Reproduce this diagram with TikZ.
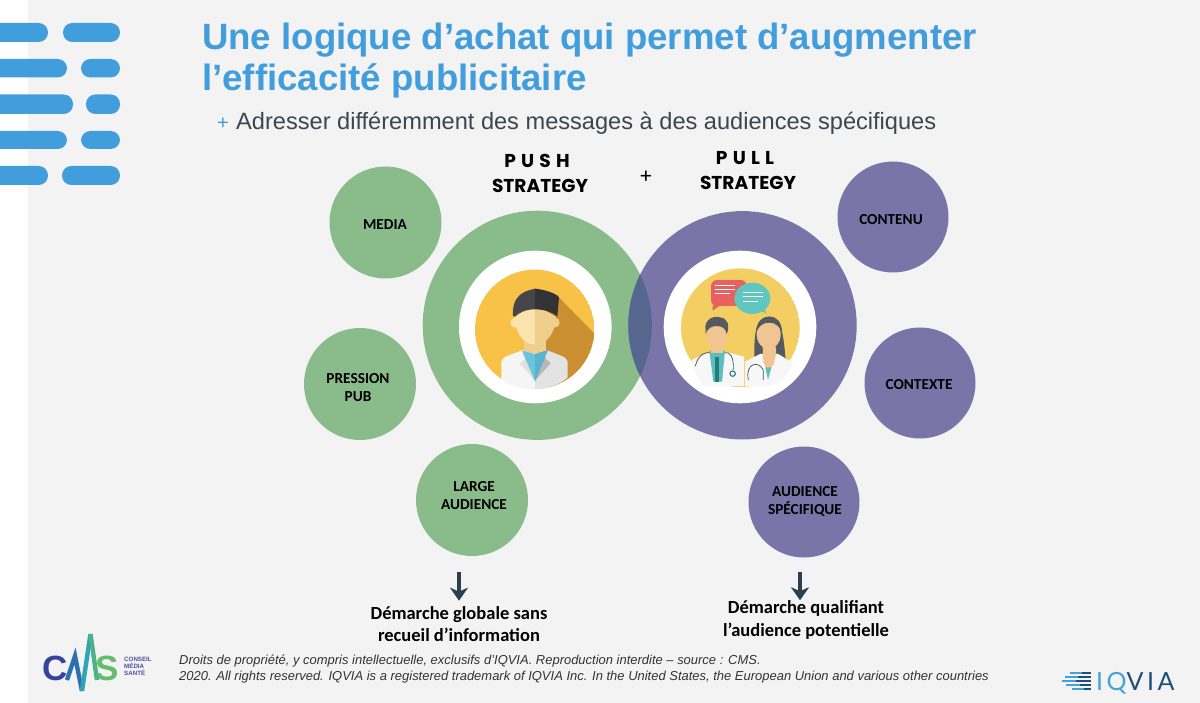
\documentclass[tikz,border=0pt]{standalone}
\usepackage{fontspec}
\usetikzlibrary{arrows.meta}
\setmainfont{Liberation Sans}
\newfontfamily\calib{Carlito}
\newfontfamily\latof[LetterSpace=14]{Lato}
\newfontfamily\popp{Poppins}
\definecolor{bgc}{HTML}{F3F3F3}
\definecolor{titleblue}{HTML}{429DDC}
\definecolor{subgrey}{HTML}{3B4650}
\definecolor{greenc}{HTML}{8ABB8A}
\definecolor{purplec}{HTML}{7A74A9}
\definecolor{overlapc}{HTML}{56668F}
\definecolor{arrowc}{HTML}{2A3F4F}
\definecolor{navyc}{HTML}{1F4E79}
\definecolor{lightb}{HTML}{45A2D4}
\definecolor{yel}{HTML}{F7C247}
\definecolor{yeltwo}{HTML}{F3CF63}
\definecolor{shadowc}{HTML}{C98F30}
\definecolor{skina}{HTML}{FBE3AE}
\definecolor{skinb}{HTML}{F0CF8E}
\definecolor{skinc}{HTML}{F0C592}
\definecolor{collara}{HTML}{6CC4DC}
\definecolor{collarb}{HTML}{5BB2CC}
\definecolor{haira}{HTML}{46464A}
\definecolor{hairb}{HTML}{333336}
\definecolor{hairc}{HTML}{555A60}
\definecolor{redb}{HTML}{E8605F}
\definecolor{tealb}{HTML}{5FC6C0}
\definecolor{tealc}{HTML}{5FBDBB}
\definecolor{teald}{HTML}{1F7F80}
\definecolor{stetho}{HTML}{3A5560}
\definecolor{cmsc}{HTML}{35439A}
\definecolor{cmsg}{HTML}{63BD6A}
\definecolor{cmsa}{HTML}{2E6FB0}
\definecolor{cmsb}{HTML}{2FA5B5}
\definecolor{cmsd}{HTML}{4CB28A}
\definecolor{cmst}{HTML}{5050A0}
\tikzset{
  x=1pt,y=-1pt,
  pill/.style={fill=titleblue,draw=none,rounded corners=9.3pt},
  smallgreen/.style={circle,fill=greenc,draw=none,minimum size=112pt,inner sep=0pt},
  smallpurple/.style={circle,fill=purplec,draw=none,minimum size=111pt,inner sep=0pt},
  lab/.style={font=\calib\bfseries\fontsize{15.3}{18}\selectfont,text=black,align=center},
  strat/.style={font=\popp\bfseries\fontsize{18.6}{24}\selectfont,text=black,align=center},
  concl/.style={font=\calib\bfseries\fontsize{18.5}{22.5}\selectfont,text=black,align=center},
  foot/.style={font=\itshape\fontsize{12.97}{16}\selectfont,text=black!80,anchor=base west,inner sep=0pt},
  titlet/.style={anchor=base west,inner sep=0pt,text=titleblue,font=\bfseries\fontsize{36.6}{40}\selectfont},
  downarrow/.style={draw=arrowc,line width=4.6pt,-{Stealth[length=13pt,width=18pt,inset=4pt]}},
}
\newcommand{\gapp}{\hspace{.28em}}
\begin{document}
\begin{tikzpicture}
\useasboundingbox (0,0) rectangle (1200,703);
\fill[white] (0,0) rectangle (1200,703);
\fill[bgc] (28,0) rectangle (1200,703);
% pills
\begin{scope}
\clip (0,0) rectangle (1200,703);
\fill[pill] (-20,23) rectangle (48,42);
\fill[pill] (63,23) rectangle (120,42);
\fill[pill] (-20,59) rectangle (67,77.5);
\fill[pill] (81,59) rectangle (120,77.5);
\fill[pill] (-20,94.5) rectangle (73,114);
\fill[pill] (86,94.5) rectangle (120,114);
\fill[pill] (-20,131) rectangle (67,149);
\fill[pill] (81,131) rectangle (120,149);
\fill[pill] (-20,166) rectangle (48,185);
\fill[pill] (62,166) rectangle (120,185);
\end{scope}
% title
\node[titlet] (t1) at (202,50) {Une logique d’achat qui permet d’augmenter};
\node[titlet] (t2) at (202,91) {l’efficacité publicitaire};
\node[anchor=base west,inner sep=0pt,text=titleblue,font=\fontsize{20}{24}\selectfont] (plus) at (217,130) {+};
\node[anchor=base west,inner sep=0pt,text=subgrey,font=\fontsize{23.6}{26}\selectfont] (sub) at (236,130) {Adresser différemment des messages à des audiences spécifiques};
% strategies
\node[strat] (push) at (537,161) {P\gapp U\gapp S\gapp H};
\node[strat] (pushb) at (540,186) {STRATEGY};
\node[strat,font=\popp\fontsize{20}{24}\selectfont] (plusb) at (646,177) {+};
\node[strat] (pull) at (745,158) {P\gapp U\gapp L\gapp L};
\node[strat] (pullb) at (748,183) {STRATEGY};
% big rings
\fill[greenc] (537.3,325.3) circle (114.6);
\fill[purplec] (742.5,325.3) circle (114.2);
\begin{scope}
\clip (537.3,325.3) circle (114.6);
\fill[overlapc] (742.5,325.3) circle (114.2);
\end{scope}
\fill[white] (535.3,327) circle (76.3);
\fill[white] (740,327) circle (76.3);
% left figure (coordinates of a 3x crop)
\begin{scope}[shift={(420,200)},scale=1/3]
\begin{scope}
\clip (344,388) circle (179);
\fill[yel] (344,388) circle (179);
\fill[shadowc] (410,285) -- (530,408) -- (530,600) -- (400,600) -- (340,400) -- cycle;
\fill[white] (150,568) rectangle (540,600);
\fill[white] (150,537) -- (245,537) -- (245,600) -- (150,600) -- cycle;
\fill[white] (443,537) -- (540,510) -- (540,600) -- (443,600) -- cycle;
\end{scope}
\fill[white!96!black] (244,485) .. controls (246,470) and (270,465) .. (310,450) -- (345,460) -- (345,568) .. controls (310,567) and (270,560) .. (244,538) -- cycle;
\fill[white!89!black] (443,485) .. controls (441,470) and (415,465) .. (380,450) -- (345,460) -- (345,568) .. controls (380,567) and (420,555) .. (443,532) -- cycle;
\fill[black!12] (300,490) -- (325,470) -- (345,542) -- cycle;
\fill[black!28] (392,490) -- (372,470) -- (345,542) -- cycle;
\fill[skinb] (312,410) rectangle (378,460);
\fill[collara] (306,452) -- (345,462) -- (345,544) -- (322,490) -- cycle;
\fill[collarb] (384,450) -- (345,462) -- (345,544) -- (368,490) -- cycle;
\fill[skina] (286,368) circle (15);
\fill[skinb] (404,368) circle (15);
\fill[skina] (345,316) -- (345,434) .. controls (310,434) and (286,400) .. (284,350) -- cycle;
\fill[skinb] (345,316) -- (345,434) .. controls (380,434) and (406,400) .. (408,350) -- cycle;
\fill[haira] (345,266) .. controls (320,272) and (275,280) .. (279,348) -- (285,350) .. controls (300,335) and (320,328) .. (345,328) -- cycle;
\fill[hairb] (345,266) .. controls (370,268) and (410,280) .. (417,292) -- (412,350) .. controls (395,335) and (370,328) .. (345,328) -- cycle;
% right figure
\begin{scope}
\clip (961,383) circle (178);
\fill[yeltwo] (961,383) circle (178);
\fill[white] (780,560) rectangle (1145,600);
\end{scope}
\fill[redb,rounded corners=6pt] (873,240) rectangle (980,318);
\fill[redb] (878,316) -- (878,332) -- (900,316) -- cycle;
\foreach \yy/\xe in {256/946,268/946,280/930} \draw[white,line width=1pt] (884,\yy) -- (\xe,\yy);
\fill[tealb] (997,295) ellipse [x radius=54,y radius=47];
\fill[tealb] (1015,330) -- (1040,340) -- (1030,322) -- cycle;
\foreach \yy/\xa/\xe in {277/968/1030,291/968/1030,305/968/1015} \draw[white,line width=1pt] (\xa,\yy) -- (\xe,\yy);
% man
\fill[white!97!black] (815,480) -- (870,455) -- (915,455) -- (972,470) -- (972,558) -- (850,558) .. controls (830,530) and (815,500) .. (815,480) -- cycle;
\fill[tealc] (868,452) -- (915,452) -- (906,545) -- (880,545) -- cycle;
\fill[teald] (884,470) -- (897,470) -- (897,545) -- (884,545) -- cycle;
\fill[skinc] (872,420) rectangle (908,460);
\fill[skinc] (890,402) ellipse [x radius=31,y radius=40];
\fill[hairc] (857,392) .. controls (850,360) and (880,345) .. (900,352) .. controls (925,355) and (930,380) .. (920,402) .. controls (918,385) and (905,378) .. (890,378) .. controls (875,378) and (862,385) .. (857,402) -- cycle;
\draw[stetho,line width=.7pt] (826,498) .. controls (835,460) and (860,456) .. (870,458);
\draw[stetho,line width=.7pt] (940,510) .. controls (942,470) and (930,455) .. (915,458);
\draw[teald,line width=1.1pt,fill=white] (938,521) circle (8);
% woman
\fill[hairc] (1003,470) .. controls (1002,390) and (1010,350) .. (1048,350) .. controls (1085,350) and (1090,400) .. (1098,490) -- cycle;
\fill[white!97!black] (975,485) -- (1020,462) -- (1075,462) -- (1120,490) .. controls (1100,530) and (1080,550) .. (1050,558) -- (975,558) -- cycle;
\fill[skinc] (1028,440) -- (1068,440) -- (1068,462) -- (1062,490) -- (1044,520) -- (1030,485) -- cycle;
\fill[tealc] (1036,502) -- (1054,502) -- (1044,540) -- cycle;
\fill[skinc] (1046,403) ellipse [x radius=36,y radius=44];
\fill[hairc] (1008,398) .. controls (1018,375) and (1030,368) .. (1048,368) .. controls (1066,368) and (1078,378) .. (1086,398) .. controls (1086,365) and (1070,350) .. (1048,350) .. controls (1026,350) and (1010,365) .. (1008,398) -- cycle;
\draw[stetho,line width=.7pt] (985,540) .. controls (975,490) and (1015,480) .. (1030,510) -- (1030,540);
\end{scope}
% small circles
\node[smallgreen] (media) at (385.5,222.5) {};
\node[lab] (medial) at (385,225) {MEDIA};
\node[smallgreen] (pression) at (360,384) {};
\node[lab] (pressionl) at (358,388) {PRESSION\\PUB};
\node[smallgreen] (large) at (472,500) {};
\node[lab] (largel) at (474,496) {LARGE\\AUDIENCE};
\node[smallpurple] (contenu) at (893,217) {};
\node[lab] (contenul) at (891,220) {CONTENU};
\node[smallpurple] (contexte) at (920,383) {};
\node[lab] (contextel) at (919,385) {CONTEXTE};
\node[smallpurple] (audience) at (804,502) {};
\node[lab] (audiencel) at (805,501) {AUDIENCE\\SPÉCIFIQUE};
% conclusions
\coordinate (a1s) at (459,572);
\coordinate (a2s) at (800,572);
\node[concl] (c1) at (459,624) {Démarche globale sans\\recueil d’information};
\node[concl] (c2) at (806,620) {Démarche qualifiant\\l’audience potentielle};
\draw[downarrow,shorten >=2pt] (a1s) -- (c1.north -| a1s);
\draw[downarrow,shorten >=-3pt] (a2s) -- (c2.north -| a2s);
% footer
\node[foot] (f1) at (179,664) {Droits de propriété, y compris intellectuelle, exclusifs d’IQVIA. Reproduction interdite – source : CMS.};
\node[foot] (f2) at (179,680) {2020. All rights reserved. IQVIA is a registered trademark of IQVIA Inc. In the United States, the European Union and various other countries};
% CMS logo
\node[anchor=base west,inner sep=0pt,text=cmsc,font=\bfseries\fontsize{35}{35}\selectfont] (lc) at (42,680) {C};
\node[anchor=base west,inner sep=0pt,text=cmsg,font=\bfseries\fontsize{35}{35}\selectfont] (ls) at (95.5,680) {S};
\draw[line width=4.4pt,line join=miter,cmsa] (67,680) -- (75,656) -- (82,691);
\draw[line width=4.4pt,line join=miter,cmsb] (82,691) -- (90.5,634);
\draw[line width=4.4pt,line join=miter,cmsd] (90.5,634) -- (97,680);
\node[anchor=north west,inner sep=0pt,text=cmst,align=left,font=\bfseries\fontsize{6.2}{6.9}\selectfont] (lt) at (124,657) {CONSEIL\\MÉDIA\\SANTÉ};
% IQVIA logo
\foreach \yy/\xa/\xb/\xc in {673/1070/1082/1091,677/1065/1078/1091,681/1062/1076/1091,685/1066/1080/1091,689/1072/1084/1091}{
  \draw[lightb,line width=1.6pt] (\xa,\yy) -- (\xb,\yy);
  \draw[navyc,line width=1.6pt] (\xb,\yy) -- (\xc,\yy);
}
\node[anchor=base west,inner sep=0pt,font=\latof\fontsize{25}{25}\selectfont] (iqvia) at (1096,690) {\textcolor{lightb}{IQ}\textcolor{navyc}{VIA}};
\end{tikzpicture}
\end{document}
